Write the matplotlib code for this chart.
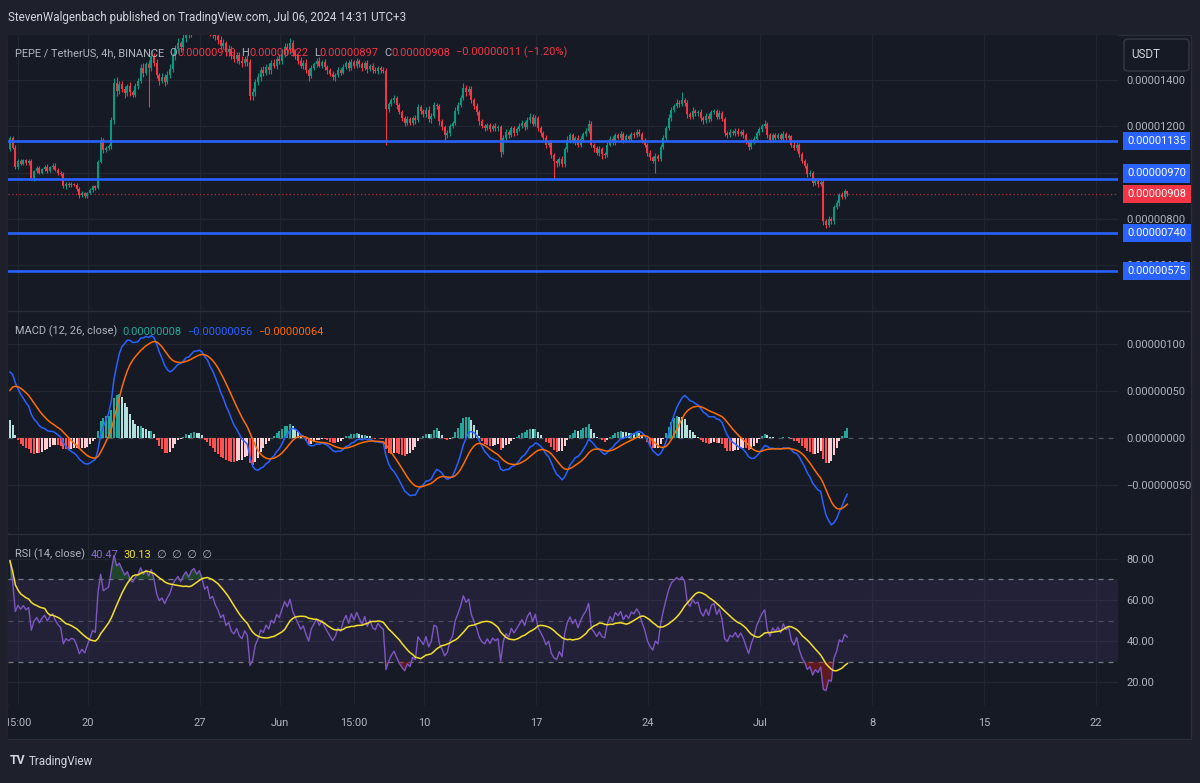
import numpy as np
import pandas as pd
import matplotlib
matplotlib.use("Agg")
import matplotlib.pyplot as plt
import matplotlib.dates as mdates
import matplotlib.transforms as mtransforms
from matplotlib import font_manager as fm
from matplotlib.font_manager import FontProperties
from matplotlib.textpath import TextPath
from matplotlib.patches import Rectangle, FancyBboxPatch
from matplotlib.lines import Line2D

# ---------------- data (prices in units of 1e-8 USDT) ----------------
FIRST_OPEN = 1100
CLOSE = [
    1148, 1105, 1025, 1050, 1038, 1052,
    1040, 1048, 975, 1005, 1018, 1000,
    1015, 1025, 1008, 1022, 1030, 1012,
    1000, 992, 940, 952, 945, 950,
    948, 930, 902, 910, 898, 912,
    925, 940, 935, 1045, 1140, 1095,
    1105, 1115, 1225, 1385, 1350, 1380,
    1360, 1340, 1370, 1345, 1335, 1372,
    1395, 1450, 1430, 1465, 1448, 1500,
    1470, 1420, 1395, 1410, 1390, 1420,
    1445, 1500, 1530, 1555, 1540, 1580,
    1610, 1595, 1640, 1660, 1645, 1670,
    1650, 1620, 1635, 1600, 1610, 1585,
    1570, 1545, 1555, 1520, 1530, 1500,
    1490, 1505, 1480, 1470, 1490, 1475,
    1330, 1345, 1390, 1410, 1440, 1430,
    1455, 1440, 1470, 1460, 1490, 1480,
    1510, 1540, 1525, 1555, 1520, 1500,
    1480, 1460, 1470, 1440, 1415, 1450,
    1465, 1480, 1460, 1475, 1455, 1440,
    1425, 1410, 1420, 1440, 1430, 1455,
    1470, 1450, 1475, 1460, 1480, 1465,
    1450, 1470, 1445, 1460, 1440, 1435,
    1450, 1440, 1435, 1275, 1295, 1310,
    1320, 1290, 1260, 1235, 1215, 1230,
    1215, 1235, 1225, 1280, 1265, 1250,
    1270, 1230, 1245, 1290, 1285, 1220,
    1195, 1160, 1170, 1200, 1215, 1265,
    1290, 1320, 1365, 1345, 1360, 1310,
    1285, 1260, 1220, 1200, 1190, 1205,
    1185, 1200, 1190, 1195, 1090, 1150,
    1175, 1160, 1190, 1170, 1185, 1200,
    1215, 1195, 1225, 1240, 1210, 1235,
    1190, 1170, 1150, 1120, 1130, 1075,
    1050, 1040, 1060, 1035, 1100, 1140,
    1160, 1135, 1150, 1120, 1145, 1165,
    1180, 1210, 1120, 1105, 1085, 1100,
    1080, 1075, 1120, 1145, 1130, 1160,
    1150, 1165, 1140, 1155, 1145, 1165,
    1160, 1175, 1165, 1140, 1120, 1085,
    1065, 1050, 1070, 1060, 1110, 1150,
    1190, 1235, 1270, 1285, 1300, 1295,
    1310, 1300, 1250, 1240, 1265, 1255,
    1260, 1235, 1225, 1245, 1230, 1260,
    1265, 1240, 1255, 1230, 1170, 1160,
    1175, 1170, 1180, 1165, 1175, 1160,
    1135, 1110, 1130, 1145, 1170, 1185,
    1200, 1210, 1160, 1140, 1160, 1150,
    1160, 1145, 1165, 1150, 1155, 1120,
    1105, 1120, 1080, 1050, 1030, 995,
    1000, 955, 965, 950, 960, 790,
    775, 800, 790, 850, 870, 905,
    895, 919, 908,
]
UPPER_WICK = [
    10, 8, 12, 6, 9, 5,   7, 10, 8, 6, 9, 12,   6, 8, 12, 5, 10, 10,
    8, 6, 10, 7, 6, 9,    5, 8, 6, 9, 7, 6,     8, 6, 7, 10, 12, 8,
    10, 8, 15, 20, 25, 12,  15, 10, 12, 18, 10, 14,  12, 15, 20, 10, 18, 25,
    14, 20, 10, 18, 12, 15,  20, 15, 18, 25, 12, 20,  15, 20, 25, 18, 20, 25,
    18, 20, 15, 22, 20, 15,  20, 15, 18, 12, 20, 15,  18, 12, 15, 20, 10, 15,
    15, 20, 12, 18, 15, 20,  12, 18, 15, 20, 12, 18,  20, 15, 18, 25, 15, 12,
    10, 15, 12, 18, 10, 12,  10, 12, 15, 10, 12, 8,   10, 12, 8, 14, 10, 12,
    10, 15, 12, 10, 12, 8,   12, 10, 15, 8, 10, 12,   8, 10, 12, 15, 10, 12,
    15, 10, 8, 10, 8, 12,    10, 8, 12, 15, 10, 8,    12, 15, 10, 12, 10, 8,
    10, 8, 12, 10, 8, 15,    12, 15, 20, 10, 12, 10,  10, 12, 8, 10, 8, 10,
    8, 10, 12, 8, 10, 12,    10, 8, 12, 8, 10, 12,    10, 8, 12, 15, 10, 12,
    10, 8, 10, 12, 8, 10,    8, 10, 8, 12, 10, 15,    10, 12, 8, 10, 12, 10,
    12, 15, 10, 8, 10, 12,   8, 10, 12, 10, 12, 8,    10, 12, 8, 10, 8, 10,
    8, 12, 10, 8, 10, 8,     10, 8, 12, 10, 12, 10,   10, 15, 12, 10, 15, 12,
    35, 10, 12, 10, 15, 8,   10, 12, 8, 10, 12, 10,   8, 10, 12, 8, 10, 8,
    10, 8, 10, 12, 8, 10,    8, 10, 12, 10, 8, 12,    10, 15, 8, 10, 8, 10,
    8, 10, 12, 8, 10, 8,     10, 12, 8, 10, 8, 10,    10, 8, 12, 10, 8, 12,
    10, 12, 8, 10, 12, 8,    10, 8, 3,
]
LOWER_WICK = [
    8, 6, 10, 8, 5, 6,    8, 6, 7, 10, 6, 8,    7, 10, 8, 6, 9, 6,
    10, 8, 6, 9, 8, 6,    6, 8, 10, 7, 8, 6,    6, 8, 10, 8, 6, 10,
    8, 10, 12, 15, 20, 12,  12, 18, 10, 15, 12, 10,  15, 10, 18, 12, 168, 12,
    10, 15, 20, 12, 18, 10,  15, 12, 18, 15, 20, 12,  18, 15, 12, 20, 15, 18,
    15, 20, 18, 12, 20, 15,  18, 12, 15, 20, 18, 12,  15, 18, 12, 15, 12, 18,
    20, 18, 15, 12, 18, 15,  12, 15, 18, 12, 15, 12,  15, 12, 18, 15, 20, 12,
    12, 10, 15, 12, 20, 10,  10, 12, 8, 10, 12, 15,  12, 10, 15, 10, 12, 8,
    10, 12, 8, 12, 10, 12,   12, 10, 15, 10, 12, 8,   10, 12, 8, 157, 15, 10,
    12, 15, 10, 12, 15, 10,  12, 10, 15, 8, 12, 10,   10, 12, 15, 10, 12, 15,
    12, 20, 10, 12, 8, 10,   12, 10, 8, 15, 10, 12,   10, 12, 15, 10, 12, 8,
    10, 8, 12, 10, 25, 10,   12, 10, 8, 12, 10, 8,    10, 12, 8, 10, 12, 10,
    10, 12, 10, 15, 10, 12,  80, 15, 12, 10, 12, 10,  12, 10, 15, 12, 10, 8,
    10, 8, 12, 15, 10, 12,   20, 12, 10, 8, 12, 10,   8, 10, 12, 8, 10, 8,
    10, 8, 10, 12, 10, 15,   12, 10, 50, 12, 10, 8,   10, 8, 12, 10, 8, 12,
    10, 12, 15, 10, 8, 12,   10, 12, 15, 10, 12, 8,   10, 12, 8, 10, 12, 10,
    8, 10, 12, 10, 8, 10,    12, 15, 10, 8, 10, 8,    10, 8, 12, 10, 8, 10,
    8, 10, 8, 12, 10, 12,    10, 12, 15, 10, 12, 15,  12, 15, 10, 12, 10, 15,
    15, 10, 12, 10, 8, 12,   10, 8, 11,
]
LEVELS = [1135, 970, 740, 575]
LAST_PRICE = 908
MACD_SEED = (1058.0, 990.0, 46.0)      # fast EMA, slow EMA, signal before first bar
RSI_SEED = (15.0, 5.0)                 # avg gain, avg loss before first bar
PRICE_TICKS = [600, 800, 1000, 1200, 1400]
MACD_TICKS = [100, 50, -50]
RSI_TICKS = [80, 60, 40, 20]
X_TICK_TIMES = ['2024-05-15 15:00', '2024-05-20 00:00', '2024-05-27 00:00', '2024-06-01 00:00',
                '2024-06-05 15:00', '2024-06-10 00:00', '2024-06-17 00:00', '2024-06-24 00:00',
                '2024-07-01 00:00', '2024-07-08 00:00', '2024-07-15 00:00', '2024-07-22 00:00']
X_TICK_LABELS = ['15:00', '20', '27', 'Jun', '15:00', '10', '17', '24',
                 'Jul', '8', '15', '22']
HEADER = 'StevenWalgenbach published on TradingView.com, Jul 06, 2024 14:31 UTC+3'

# ---------------- font: pick the narrowest installed sans ----------------
CANDIDATES = [('Liberation Sans Narrow', 'normal'), ('DejaVu Sans', 'condensed'),
              ('Liberation Sans', 'normal'), ('Roboto', 'normal'),
              ('Noto Sans', 'normal'), ('Lato', 'normal'), ('DejaVu Sans', 'normal')]
best = None
for fam, st in CANDIDATES:
    try:
        path = fm.findfont(FontProperties(family=fam, stretch=st), fallback_to_default=False)
    except Exception:
        continue
    w = TextPath((0, 0), HEADER, size=10, prop=FontProperties(fname=path)).get_extents().width
    if best is None or w < best[0] - 1e-6:
        best = (w, path, st)
fam_name = FontProperties(fname=best[1]).get_name()
plt.rcParams['font.family'] = [fam_name, 'DejaVu Sans']
plt.rcParams['font.stretch'] = best[2]
# header text is ~340 px wide in the reference; scale font sizes toward that
hdr_px = best[0] / 10 * (9.5 * 100 / 72)
SZ = float(np.clip(340.0 / hdr_px, 0.88, 1.0))

# ---------------- derived series ----------------
times = pd.date_range('2024-05-15 03:00', periods=len(CLOSE), freq='4h')
x = mdates.date2num(times.to_pydatetime())
close = np.array(CLOSE, float)
open_ = np.concatenate([[FIRST_OPEN], close[:-1]])
high = np.maximum(open_, close) + np.array(UPPER_WICK, float)
low = np.minimum(open_, close) - np.array(LOWER_WICK, float)

e12, e26, sig = MACD_SEED
macd, signal = [], []
for c in close:
    e12 += 2 / 13 * (c - e12)
    e26 += 2 / 27 * (c - e26)
    m = e12 - e26
    sig += 2 / 10 * (m - sig)
    macd.append(m)
    signal.append(sig)
macd = np.array(macd)
signal = np.array(signal)
hist = macd - signal

ag, al = RSI_SEED
prev = FIRST_OPEN
rsi = []
for c in close:
    d = c - prev
    ag = (ag * 13 + max(d, 0)) / 14
    al = (al * 13 + max(-d, 0)) / 14
    rsi.append(100 - 100 / (1 + ag / al) if al > 0 else 100)
    prev = c
rsi = np.array(rsi)
rsi_ma = pd.Series(rsi).rolling(14, min_periods=1).mean().values

# ---------------- style ----------------
OUTER = '#1e212b'
PANE = '#161a25'
GRID = '#222631'
BORDER = '#2a2e39'
TXT = '#b2b5be'
UP = '#089981'
DOWN = '#f23645'
BLUE = '#2962ff'
FS = 9 * SZ

W, H = 1200, 783
fig = plt.figure(figsize=(12, 7.83), dpi=100, facecolor=OUTER)


def fx(px):
    return px / W


def fy(py):
    return 1 - py / H


def add_ax(top, bottom):
    a = fig.add_axes([fx(8), fy(bottom), fx(1118) - fx(8), fy(top) - fy(bottom)])
    a.set_facecolor(PANE)
    for s in a.spines.values():
        s.set_visible(False)
    return a


# chart frame
fig.patches.append(Rectangle((fx(8), fy(739)), fx(1191) - fx(8), fy(35) - fy(739),
                             transform=fig.transFigure, fc=PANE, ec=BORDER, lw=1, zorder=-5))

ax_p = add_ax(35, 311)
ax_m = add_ax(312, 533)
ax_r = add_ax(534, 705)
ax_x = add_ax(706, 739)

x0 = mdates.date2num(pd.Timestamp('2024-05-15 00:00').to_pydatetime())
x1 = x0 + (1118 - 8) / 16.0
for a in (ax_p, ax_m, ax_r, ax_x):
    a.set_xlim(x0, x1)

ax_p.set_ylim(404.3, 1591.4)
ax_m.set_ylim(-101, 134)
ax_r.set_ylim(9.1, 91.9)

xt = mdates.date2num(pd.to_datetime(X_TICK_TIMES, format='%Y-%m-%d %H:%M').to_pydatetime())

for a, ticks in ((ax_p, PRICE_TICKS), (ax_m, MACD_TICKS + [0]), (ax_r, RSI_TICKS)):
    for t in xt:
        a.axvline(t, color=GRID, lw=0.9, zorder=0)
    a.yaxis.tick_right()
    a.set_yticks(ticks)
    a.tick_params(axis='y', length=0, pad=6, labelsize=FS, labelcolor=TXT)
    a.tick_params(axis='x', bottom=False, labelbottom=False)

for t in PRICE_TICKS:
    ax_p.axhline(t, color=GRID, lw=0.9, zorder=0)
for t in MACD_TICKS:
    ax_m.axhline(t, color=GRID, lw=0.9, zorder=0)
for t in RSI_TICKS:
    ax_r.axhline(t, color=GRID, lw=0.9, zorder=0)


def price_fmt(v):
    s = f"{abs(v) * 1e-8:.8f}"
    return ('\u2212' + s) if v < 0 else s


ax_p.set_yticklabels([price_fmt(v) for v in PRICE_TICKS])
ax_m.set_yticklabels([price_fmt(v) for v in MACD_TICKS + [0]])
ax_r.set_yticklabels([f"{v:.2f}" for v in RSI_TICKS])

# ---------------- price pane ----------------
up = close >= open_
cols = np.where(up, UP, DOWN)
ax_p.vlines(x, low, high, colors=cols, lw=0.8, zorder=3)
body = np.maximum(np.abs(close - open_), 2.5)
ax_p.bar(x, body, bottom=np.minimum(open_, close), width=0.125, color=cols,
         linewidth=0, zorder=4)

for lv in LEVELS:
    ax_p.axhline(lv, color=BLUE, lw=1.9, zorder=5)
ax_p.axhline(LAST_PRICE, color=DOWN, lw=0.9, ls=(0, (1, 2)), alpha=0.7, zorder=5)

LABEL_NUDGE_PX = {970: 6}
for lv in LEVELS:
    tr = mtransforms.offset_copy(ax_p.get_yaxis_transform(), fig=fig,
                                 y=LABEL_NUDGE_PX.get(lv, 0), units='dots')
    ax_p.text(1.0085, lv, price_fmt(lv), transform=tr, ha='left', va='center',
              color='white', fontsize=FS, clip_on=False, zorder=30,
              bbox=dict(boxstyle='square,pad=0.38', fc=BLUE, ec='none'))
ax_p.text(1.0085, LAST_PRICE, price_fmt(LAST_PRICE), transform=ax_p.get_yaxis_transform(),
          ha='left', va='center', color='white', fontsize=FS, clip_on=False, zorder=30,
          bbox=dict(boxstyle='square,pad=0.38', fc=DOWN, ec='none'))

# ---------------- MACD pane ----------------
hcols = []
for i, h in enumerate(hist):
    p = hist[i - 1] if i > 0 else h
    if h >= 0:
        hcols.append('#26a69a' if h > p else '#b2dfdb')
    else:
        hcols.append('#ffcdd2' if h > p else '#ff5252')
ax_m.bar(x, hist, width=0.125, color=hcols, linewidth=0, zorder=2)
ax_m.axhline(0, color='#787b86', lw=0.9, ls=(0, (4, 4)), alpha=0.6, zorder=1)
ax_m.plot(x, macd, color=BLUE, lw=1.1, zorder=3)
ax_m.plot(x, signal, color='#ff6d00', lw=1.1, zorder=3)

# ---------------- RSI pane ----------------
ax_r.axhspan(30, 70, color='#7e57c2', alpha=0.12, lw=0, zorder=0)
ax_r.axhline(70, color='#787b86', lw=0.9, ls=(0, (4, 4)), zorder=1)
ax_r.axhline(30, color='#787b86', lw=0.9, ls=(0, (4, 4)), zorder=1)
ax_r.axhline(50, color='#787b86', lw=0.9, ls=(0, (4, 4)), alpha=0.5, zorder=1)
ax_r.fill_between(x, 70, rsi, where=rsi > 70, interpolate=True, color='#2e7d32',
                  alpha=0.45, lw=0, zorder=1)
ax_r.fill_between(x, 30, rsi, where=rsi < 30, interpolate=True, color='#b71c1c',
                  alpha=0.45, lw=0, zorder=1)
ax_r.plot(x, rsi, color='#7e57c2', lw=1.0, zorder=3)
ax_r.plot(x, rsi_ma, color='#f3df2b', lw=1.1, zorder=4)

# ---------------- time axis ----------------
ax_x.set_xticks([])
ax_x.set_yticks([])
for t, lab in zip(xt, X_TICK_LABELS):
    ax_x.text(t, 0.5, lab, transform=ax_x.get_xaxis_transform(), ha='center',
              va='center', color=TXT, fontsize=FS, clip_on=True)

# separators
for yy in (311.5, 533.5):
    fig.add_artist(Line2D([fx(8), fx(1191)], [fy(yy), fy(yy)], color=BORDER, lw=1))

# USDT box
fig.patches.append(FancyBboxPatch((fx(1124), fy(71)), fx(1189) - fx(1124), fy(39) - fy(71),
                                  boxstyle='round,pad=0,rounding_size=0.004',
                                  transform=fig.transFigure, fc=PANE, ec='#363a45',
                                  lw=1, zorder=40))
fig.text(fx(1131), fy(55), 'USDT', color='#d1d4dc', fontsize=9.5 * SZ, va='center',
         ha='left', zorder=41)

# ---------------- legends / header ----------------


def prev_anno(s, c, gap, size, prev_t):
    return fig.add_artist(plt.Annotation(s, xy=(1, 0), xycoords=prev_t,
                                         xytext=(gap, 0), textcoords='offset points',
                                         color=c, fontsize=size, va='bottom',
                                         ha='left', zorder=50))


def legend(x_px, y_px, parts, size=FS):
    t = fig.text(fx(x_px), fy(y_px), parts[0][0], color=parts[0][1], fontsize=size,
                 va='center', ha='left', zorder=50)
    for s, c, gap in parts[1:]:
        t = prev_anno(s, c, gap, size, t)


GRAY = TXT
legend(15, 53, [('PEPE / TetherUS, 4h, BINANCE', GRAY),
                ('O', GRAY, 4), ('0.00000919', DOWN, 0),
                ('H', GRAY, 4), ('0.00000922', DOWN, 0),
                ('L', GRAY, 4), ('0.00000897', DOWN, 0),
                ('C', GRAY, 4), ('0.00000908', DOWN, 0),
                ('\u22120.00000011 (\u22121.20%)', DOWN, 4)])
legend(15, 331, [('MACD (12, 26, close)', GRAY),
                 ('0.00000008', '#26a69a', 4),
                 ('\u22120.00000056', BLUE, 4),
                 ('\u22120.00000064', '#ff6d00', 4)])
legend(15, 554, [('RSI (14, close)', GRAY),
                 ('40.47', '#8c6bd0', 4),
                 ('30.13', '#f3df2b', 4),
                 ('\u2205  \u2205  \u2205  \u2205', GRAY, 4)])

fig.text(fx(8), fy(18), HEADER, color='#d1d4dc', fontsize=9.5 * SZ, va='center', ha='left')
tv = fig.text(fx(10), fy(761), 'TV', color='#d1d4dc', fontsize=10 * SZ, fontweight='bold',
              va='center', ha='left')
prev_anno('TradingView', '#d1d4dc', 2, 9.5 * SZ, tv)

fig.savefig('out.png', dpi=100, facecolor=fig.get_facecolor())
